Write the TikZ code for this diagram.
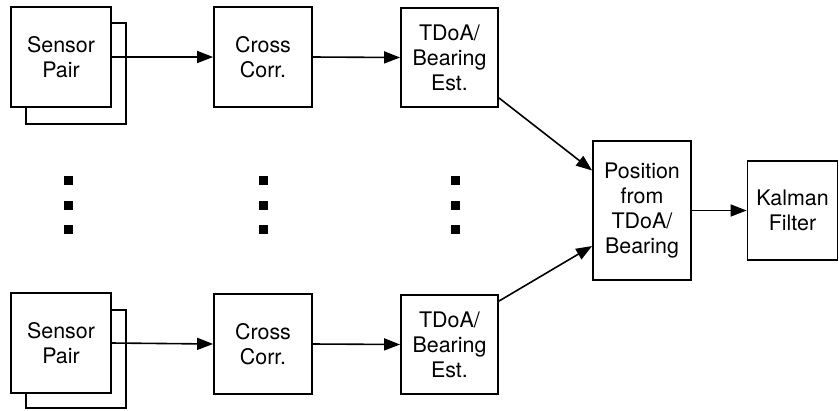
\documentclass[tikz,border=0pt]{standalone}
\usepackage{fontspec}
\setmainfont{TeX Gyre Heros}
\usetikzlibrary{arrows.meta,calc}
\tikzset{
  blk/.style={draw, line width=1.8bp, fill=white, align=center, inner sep=0pt,
    font=\fontsize{21.5}{25}\selectfont},
  stack/.style={draw, line width=1.8bp, fill=white, inner sep=0pt},
  flow/.style={line width=1.6bp, -{Triangle[length=16bp,width=12bp]}},
  dot/.style={fill=black, inner sep=0pt, minimum size=9bp}
}
\begin{document}
\begin{tikzpicture}[x=1bp,y=-1bp]
  \useasboundingbox (0,0) rectangle (839,410);

  % upper channel
  \node[stack, minimum width=100bp, minimum height=101bp] (sp1b) at (76,73.5) {};
  \node[blk, minimum width=100bp, minimum height=100bp] (sp1) at (61,57) {Sensor\\Pair};
  \node[blk, minimum width=98bp, minimum height=100bp] (cc1) at (263,57) {Cross\\Corr.};
  \node[blk, minimum width=97bp, minimum height=99bp] (te1) at (449.5,57.5) {TDoA/\\Bearing\\Est.};

  % lower channel
  \node[stack, minimum width=100bp, minimum height=98bp] (sp2b) at (76,359) {};
  \node[blk, minimum width=100bp, minimum height=100bp] (sp2) at (61,343) {Sensor\\Pair};
  \node[blk, minimum width=98bp, minimum height=100bp] (cc2) at (263,344) {Cross\\Corr.};
  \node[blk, minimum width=97bp, minimum height=99bp] (te2) at (449.5,344.5) {TDoA/\\Bearing\\Est.};

  % fusion stages
  \node[blk, minimum width=98bp, minimum height=139bp] (pos) at (642,210.5) {Position\\from\\TDoA/\\Bearing};
  \node[blk, minimum width=90bp, minimum height=99bp] (kal) at (792.5,210.5) {Kalman\\Filter};

  % ellipsis dots between the channels
  \foreach \c/\x in {a/68,b/263,c/455}
    \foreach \r/\y in {1/180,2/205,3/229}
      \node[dot] (dot\c\r) at (\x,\y) {};

  % connectors
  \draw[flow] (sp1.east) -- (cc1.west);
  \draw[flow] (cc1.east) -- (te1.west);
  \draw[flow] (sp2.east) -- (cc2.west);
  \draw[flow] (cc2.east) -- (te2.west);
  \draw[flow] ([yshift=10bp]te1.south east) -- ([yshift=40bp]pos.west);
  \draw[flow] ([yshift=-7bp]te2.north east) -- ([yshift=-35.5bp]pos.west);
  \draw[flow] (pos.east) -- (kal.west);
\end{tikzpicture}
\end{document}
